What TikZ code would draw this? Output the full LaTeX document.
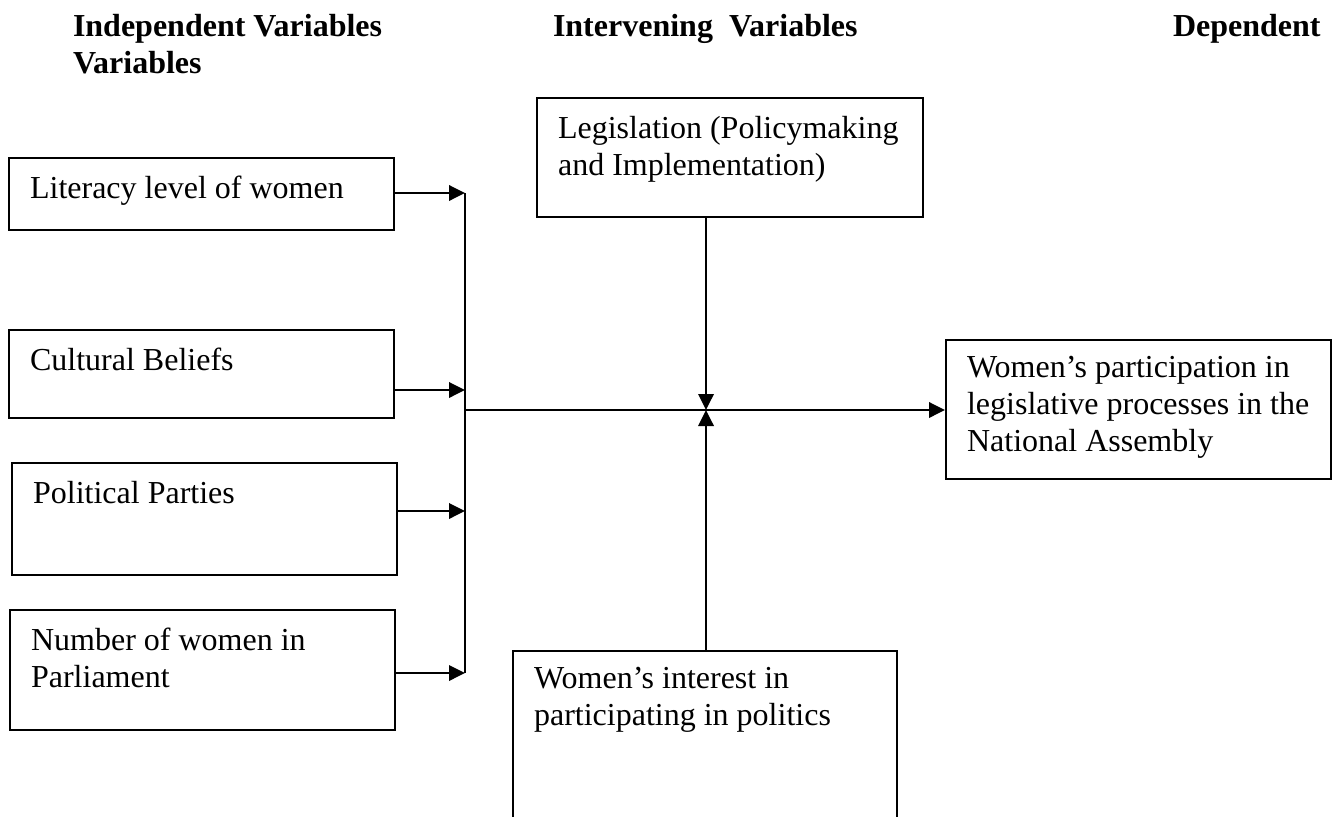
\documentclass[tikz,border=0pt]{standalone}
\usepackage{fontspec}
\setmainfont{Liberation Serif}
\usetikzlibrary{arrows.meta}

\begin{document}
\begin{tikzpicture}[x=0.375pt,y=-0.375pt,
	    font=\fontsize{12}{13.9}\selectfont, line width=0.75pt,
	    varbox/.style={draw, anchor=north west, inner xsep=7.9pt, inner ysep=0pt},
	    head/.style={font=\fontsize{12}{13.9}\selectfont\bfseries, anchor=north west, inner sep=0pt, align=left},
	    link/.style={-{Triangle[length=6pt,width=5.8pt]}}]
	    \useasboundingbox (0,0) rectangle (1333,817);
	    \clip (0,0) rectangle (1333,817);

	    % headings
	    \node[head] (hind) at (72,13) {Independent Variables\\Variables};
	    \node[head] (hint) at (552,13) {Intervening~ Variables};
	    \node[head] (hdep) at (1172,13) {Dependent};

	    % independent variables
	    \node[varbox] (lit) at (8,157) {\parbox[t][27pt][t]{128.6pt}{\rule{0pt}{15pt}Literacy level of women}};
	    \node[varbox] (cult) at (8,329) {\parbox[t][33pt][t]{128.6pt}{\rule{0pt}{15pt}Cultural Beliefs}};
	    \node[varbox] (pol) at (11,462) {\parbox[t][42pt][t]{128.6pt}{\rule{0pt}{15pt}Political Parties}};
	    \node[varbox] (num) at (9,609) {\parbox[t][45pt][t]{128.6pt}{\rule{0pt}{15pt}Number of women in\\Parliament}};

	    % intervening and dependent variables
	    \node[varbox] (legis) at (536,97) {\parbox[t][44.6pt][t]{128.8pt}{\rule{0pt}{15pt}Legislation (Policymaking\\and Implementation)}};
	    \node[varbox] (dep) at (945,339) {\parbox[t][52pt][t]{128.6pt}{\rule{0pt}{14pt}Women’s participation in\\legislative processes in the\\National Assembly}};
	    \node[varbox] (int) at (512,650) {\parbox[t][80pt][t]{128.2pt}{\rule{0pt}{14.2pt}Women’s interest in\\participating in politics}};

	    \coordinate (b1) at (465,193);
	    \coordinate (b2) at (465,390);
	    \coordinate (b3) at (465,511);
	    \coordinate (b4) at (465,673);
	    \coordinate (hub) at (706,410);

	    \draw[link] (lit.east |- b1) -- (b1);
	    \draw[link] (cult.east |- b2) -- (b2);
	    \draw[link] (pol.east |- b3) -- (b3);
	    \draw[link] (num.east |- b4) -- (b4);
	    \draw (b1) -- (b4);
	    \draw[link] (b1 |- hub) -- (dep.west |- hub);
	    \draw[link] (legis.south -| hub) -- (hub);
	    \draw[link] (int.north -| hub) -- (hub);
	\end{tikzpicture}
\end{document}
